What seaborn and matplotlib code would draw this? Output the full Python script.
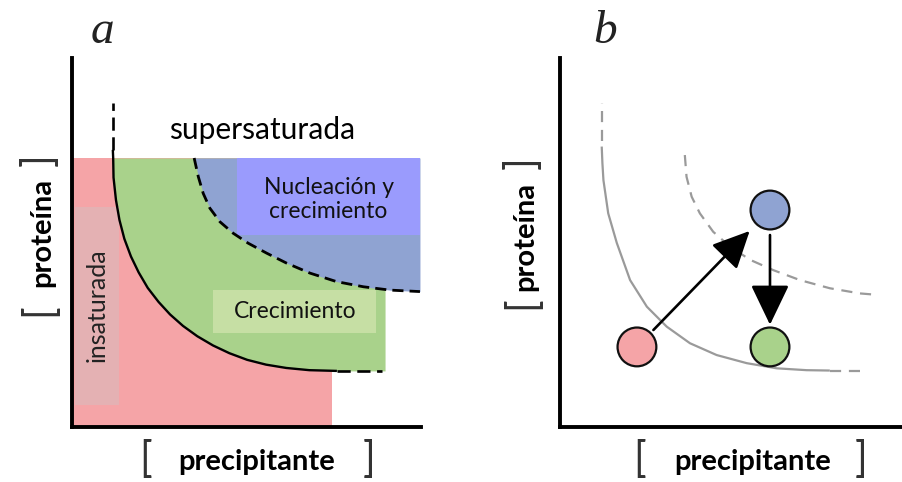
import matplotlib
matplotlib.use("Agg")
import matplotlib.pyplot as plt
import seaborn as sns
import pandas as pd

W, H = 902, 482

# ---- panel a: phase diagram (concentration units 0-10)
sol_x = [1.17, 1.18, 1.19, 1.26, 1.36, 1.50, 1.69, 1.91, 2.17, 2.48, 2.81, 3.18, 3.59, 4.04,
         4.51, 5.02, 5.56, 6.14, 6.80, 7.59]
sol_y = [7.51, 7.29, 6.76, 6.15, 5.61, 5.10, 4.62, 4.19, 3.77, 3.39, 3.05, 2.74, 2.46, 2.21,
         2.00, 1.82, 1.69, 1.60, 1.54, 1.52]
sol_top_x = [1.17, 1.17]
sol_top_y = [7.51, 8.78]
sol_tail_x = [7.59, 8.88]
sol_tail_y = [1.52, 1.52]

nuc_x = [3.50, 3.62, 3.76, 3.95, 4.24, 4.62, 5.05, 5.58, 6.15, 6.82, 7.58, 8.35, 9.11, 9.97]
nuc_y = [7.29, 6.78, 6.33, 5.93, 5.56, 5.25, 4.98, 4.71, 4.44, 4.17, 3.94, 3.80, 3.71, 3.67]

zone_top = 7.29
pink_right = 7.45
green_right = 8.97
blue_right = 9.97

# label boxes: (x0, x1, y0, y1)
box_nuc = (4.73, 9.97, 5.20, 7.29)
box_crec = (4.04, 8.71, 2.55, 3.71)
box_insat = (0.09, 1.35, 0.60, 5.96)

# ---- panel b: same curves, drawn in grey
grey_x = [1.22, 1.24, 1.27, 1.41, 1.66, 2.05, 2.54, 3.12, 3.80, 4.58, 5.46, 6.34, 7.21, 7.89]
grey_y = [7.60, 7.15, 6.69, 5.79, 4.99, 3.98, 3.26, 2.72, 2.27, 1.95, 1.73, 1.59, 1.54, 1.53]
grey_top_x = [1.22, 1.22]
grey_top_y = [7.75, 8.78]
grey_tail_x = [7.89, 8.98]
grey_tail_y = [1.53, 1.53]
grey_nuc_x = [3.65, 3.70, 3.85, 4.09, 4.48, 4.97, 5.56, 6.24, 7.02, 7.89, 8.77, 9.30]
grey_nuc_y = [7.37, 6.78, 6.24, 5.79, 5.29, 4.89, 4.53, 4.25, 3.98, 3.76, 3.62, 3.58]

states = ["insaturada", "nucleacion", "crecimiento"]
state_x = [2.25, 6.14, 6.14]
state_y = [2.17, 5.88, 2.17]

PINK = "#f5a4a7"
GREEN = "#a9d28b"
BLUE = "#8fa3d2"

sns.set_theme(style="white")
plt.rcParams["font.family"] = ["Lato", "DejaVu Sans"]


def px(x, y):
    return x / W, 1 - y / H


def rect(ax, box, color, z):
    x0, x1, y0, y1 = box
    ax.fill_between([x0, x1], y0, y1, color=color, lw=0, zorder=z)


def style_axes(ax):
    ax.set_xlim(0, 10)
    ax.set_ylim(0, 10)
    ax.set_xticks([])
    ax.set_yticks([])
    ax.set_xlabel("")
    ax.set_ylabel("")
    ax.set_facecolor("white")
    for side in ["top", "right"]:
        ax.spines[side].set_visible(False)
    for side in ["left", "bottom"]:
        ax.spines[side].set_color("black")
        ax.spines[side].set_linewidth(2.8)
        ax.spines[side].set_zorder(10)


def line(ax, x, y, dashes=None, **kw):
    sns.lineplot(x=x, y=y, ax=ax, sort=False, estimator=None, legend=False, **kw)
    ln = ax.lines[-1]
    ln.set_solid_capstyle("butt")
    ln.set_solid_joinstyle("round")
    if dashes:
        ln.set_dashes(dashes)
    return ln


fig = plt.figure(figsize=(W / 100, H / 100), dpi=100)
ax_a = fig.add_axes([72 / W, 55 / H, 349 / W, 369 / H])
ax_b = fig.add_axes([560 / W, 55 / H, 342 / W, 369 / H])

# zones
ax_a.fill_between([0, pink_right], 0, zone_top, color=PINK, lw=0, zorder=1)
ax_a.fill_betweenx(sol_y[1:], sol_x[1:], green_right, color=GREEN, lw=0, zorder=2)
ax_a.fill_betweenx(nuc_y, nuc_x, blue_right, color=BLUE, lw=0, zorder=3)
rect(ax_a, box_nuc, "#9a9bfd", 4)
rect(ax_a, box_crec, "#c6dfa4", 4)
rect(ax_a, box_insat, "#e4b1b3", 4)

line(ax_a, sol_x, sol_y, color="black", lw=1.7, zorder=6)
line(ax_a, sol_top_x, sol_top_y, dashes=[5, 2.5], color="black", lw=1.9, zorder=6)
line(ax_a, sol_tail_x, sol_tail_y, dashes=[5, 2.5], color="black", lw=1.9, zorder=6)
line(ax_a, nuc_x, nuc_y, dashes=[4, 2.2], color="black", lw=2.0, zorder=6)

ax_a.text(5.44, 8.05, "supersaturada", ha="center", va="center", fontsize=21.5, color="black")
ax_a.text((box_nuc[0] + box_nuc[1]) / 2, 6.17, "Nucleación y\ncrecimiento", ha="center",
          va="center", fontsize=16.5, color="#111111", linespacing=1.15, zorder=7)
ax_a.text(6.39, 3.12, "Crecimiento", ha="center", va="center", fontsize=16.5, color="#111111",
          zorder=7)
ax_a.text(0.72, 3.3, "insaturada", ha="center", va="center", rotation=90, fontsize=18,
          color="#222222", zorder=7)

# panel b
grey = dict(color="#9a9a9a", lw=1.6, zorder=3)
line(ax_b, grey_x, grey_y, **grey)
line(ax_b, grey_top_x, grey_top_y, dashes=[5, 3.5], **grey)
line(ax_b, grey_tail_x, grey_tail_y, dashes=[5, 3.5], **grey)
line(ax_b, grey_nuc_x, grey_nuc_y, dashes=[5, 3.5], **grey)

df_states = pd.DataFrame({"estado": states, "x": state_x, "y": state_y})
sns.scatterplot(data=df_states, x="x", y="y", hue="estado", ax=ax_b, s=780, legend=False,
                palette={"insaturada": PINK, "nucleacion": BLUE, "crecimiento": GREEN},
                edgecolor="#111111", linewidth=1.6, zorder=6)

ax_b.annotate("", xy=(state_x[1], state_y[1]), xytext=(state_x[0], state_y[0]),
              arrowprops=dict(arrowstyle="-|>,head_length=1.15,head_width=0.55", lw=1.9,
                              color="black", mutation_scale=20, shrinkA=17, shrinkB=21),
              zorder=5)
ax_b.annotate("", xy=(state_x[2], state_y[2]), xytext=(state_x[1], state_y[1]),
              arrowprops=dict(arrowstyle="-|>,head_length=1.25,head_width=0.6", lw=1.9,
                              color="black", mutation_scale=20, shrinkA=18, shrinkB=16),
              zorder=5)

style_axes(ax_a)
style_axes(ax_b)

# panel letters and axis labels
serif = dict(family="Liberation Serif", style="italic", fontsize=34, color="#222222")
fig.text(*px(102, 43), "a", ha="center", va="baseline", **serif)
fig.text(*px(605, 43), "b", ha="center", va="baseline", **serif)

bracket = dict(ha="center", va="center", fontsize=30, fontweight="normal", color="#333333")
for cx, bl, br, ty in [(42, 310, 160, 232), (525, 303, 163, 236)]:
    fig.text(*px(cx - 3, bl), "[", rotation=90, **bracket)
    fig.text(*px(cx - 3, br), "]", rotation=90, **bracket)
    fig.text(*px(cx, ty), "proteína", ha="center", va="center", rotation=90, fontsize=21,
             fontweight="bold", color="black")

for lx, rx, tx in [(146, 369, 257), (640, 861, 753)]:
    fig.text(*px(lx, 459), "[", **bracket)
    fig.text(*px(rx, 459), "]", **bracket)
    fig.text(*px(tx, 462), "precipitante", ha="center", va="center", fontsize=21,
             fontweight="bold", color="black")

fig.savefig("out.png", dpi=100, facecolor="white")
